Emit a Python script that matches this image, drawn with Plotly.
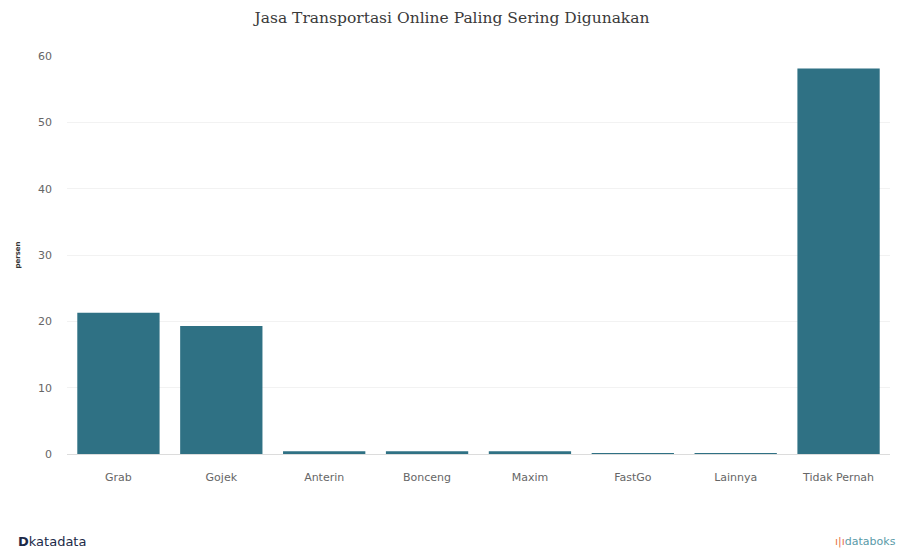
import plotly.graph_objects as go

categories = ["Grab", "Gojek", "Anterin", "Bonceng", "Maxim", "FastGo", "Lainnya", "Tidak Pernah"]
values = [21.3, 19.3, 0.4, 0.4, 0.4, 0.15, 0.15, 58.1]
y_ticks = [0, 10, 20, 30, 40, 50, 60]

fig = go.Figure(go.Bar(x=categories, y=values, marker_color="#2f7184", marker_line_width=0))

fig.update_layout(
    width=904, height=554,
    margin=dict(l=67, r=14, t=56, b=100),
    paper_bgcolor="white", plot_bgcolor="white",
    bargap=0.2,
    title=dict(text="Jasa Transportasi Online Paling Sering Digunakan", x=0.5, xanchor="center",
               y=0.968, yanchor="middle",
               font=dict(family="DejaVu Serif, serif", size=15.5, color="#3a3a3a")),
    font=dict(family="DejaVu Sans, sans-serif", size=11, color="#666"),
    showlegend=False,
)
fig.update_yaxes(range=[0, 60], tickvals=y_ticks, showgrid=True, gridcolor="#f2f2f2",
                 zeroline=True, zerolinecolor="#dcdcdc", zerolinewidth=1,
                 ticks="", ticklabelstandoff=14,
                 title=dict(text="<b>persen</b>", font=dict(size=7, color="#333"), standoff=16))
fig.update_xaxes(showgrid=False, ticks="", tickfont=dict(size=11, color="#666"), ticklabelstandoff=15)

fig.add_annotation(text="<b>D</b>katadata", xref="paper", yref="paper", x=-0.062, y=-0.22,
                   xanchor="left", yanchor="middle", showarrow=False,
                   font=dict(family="DejaVu Sans", size=13, color="#1c2a48"))
fig.add_annotation(text="<span style='color:#e8734a'>ı|ı</span>databoks", xref="paper", yref="paper", x=1.01, y=-0.22,
                   xanchor="right", yanchor="middle", showarrow=False,
                   font=dict(family="DejaVu Sans", size=11, color="#5a9aa8"))

fig.write_html("out.html")
